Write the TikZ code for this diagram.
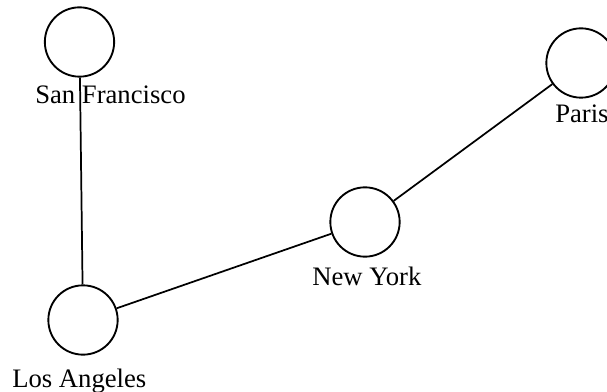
\documentclass[tikz,border=0pt]{standalone}
\usepackage{fontspec}
\setmainfont{Liberation Serif}
\begin{document}
\begin{tikzpicture}[x=0.75pt, y=-0.75pt,
  city/.style={circle, draw, line width=1.4pt, minimum size=52pt, inner sep=0pt},
  citylabel/.style={anchor=base west, inner sep=0pt, font=\fontsize{20pt}{24pt}\selectfont},
  road/.style={line width=1.3pt}]
\useasboundingbox (0,0) rectangle (607,392);
\node[city] (sf) at (79.5,42) {};
\node[city] (la) at (83,320) {};
\node[city] (ny) at (365,222) {};
\node[city] (pa) at (581,63) {};
\draw[road] (sf) -- (la);
\draw[road] (la) -- (ny);
\draw[road] (ny) -- (pa);
\node[citylabel] (sfl) at (35,104) {San Francisco};
\node[citylabel] (lal) at (12,387) {Los Angeles};
\node[citylabel] (nyl) at (312,286) {New York};
\node[citylabel] (pal) at (555,123) {Paris};
\end{tikzpicture}
\end{document}
